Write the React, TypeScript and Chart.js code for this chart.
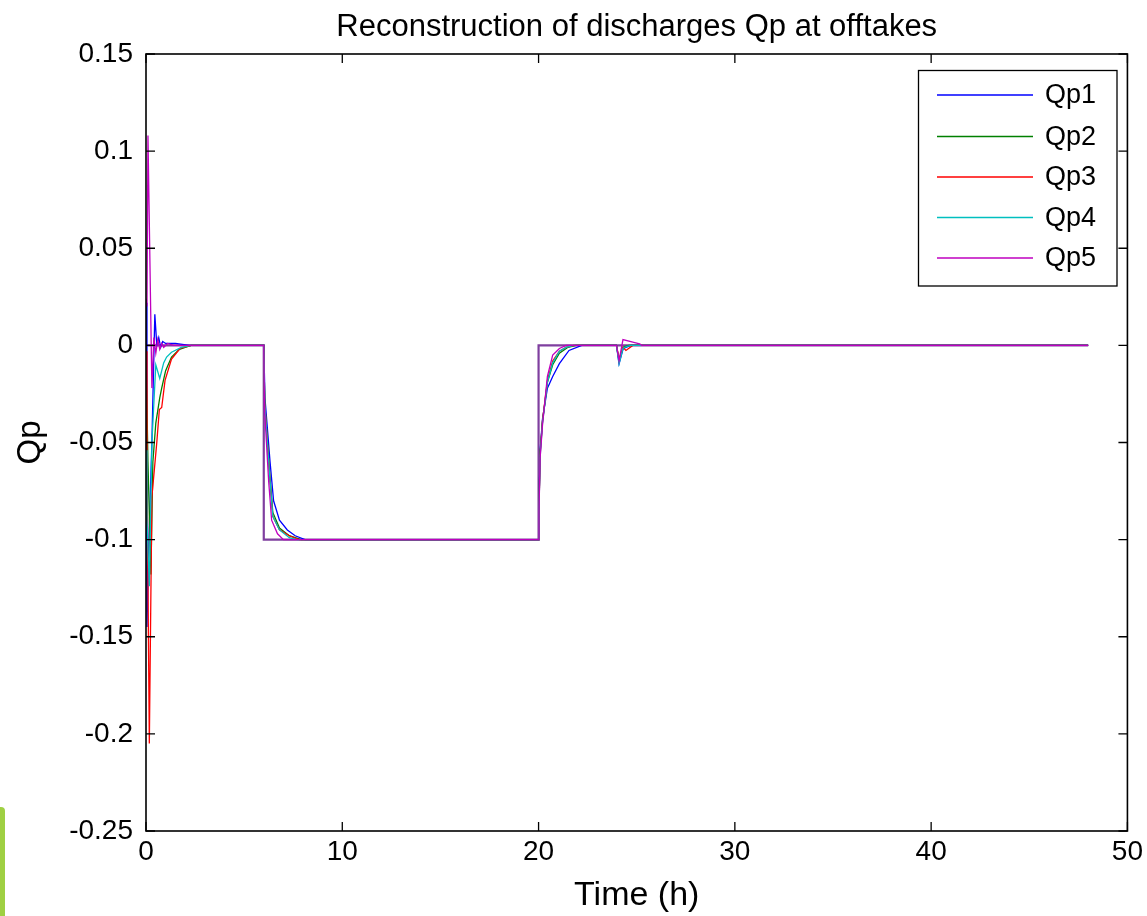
import React, { useEffect, useRef } from 'react';
import { Chart, registerables } from 'chart.js';
Chart.register(...registerables);

const FONT = '"Liberation Sans", Arial, sans-serif';

// ---- data ----
const qp1Time = [0, 0.05, 0.15, 0.3, 0.45, 0.55, 0.65, 0.75, 0.85, 1.0, 1.5, 2.2, 6.0, 6.06, 6.32, 6.5, 6.8, 7.2, 7.6, 8.1, 20.0, 20.02, 20.08, 20.2, 20.45, 20.72, 21.06, 21.55, 22.2, 23.97, 24.1, 24.3, 24.45, 24.7, 48];
const qp1Values = [0.022, -0.145, -0.1, -0.05, 0.016, 0.0, 0.004, -0.001, 0.002, 0.001, 0.001, 0, 0, -0.027, -0.06, -0.08, -0.09, -0.095, -0.098, -0.1, -0.1, -0.083, -0.054, -0.038, -0.022, -0.016, -0.0094, -0.0026, 0, 0, -0.0095, -0.002, -0.001, 0, 0];

const qp2Time = [0, 0.1, 0.25, 0.35, 0.5, 0.7, 0.8, 1.0, 1.3, 1.7, 2.3, 6.0, 6.05, 6.3, 6.46, 6.8, 7.3, 7.9, 20.0, 20.02, 20.08, 20.2, 20.45, 20.72, 21.06, 21.5, 21.9, 23.97, 24.1, 24.3, 24.6, 48];
const qp2Values = [-0.003, -0.06, -0.118, -0.06, -0.04, -0.027, -0.022, -0.013, -0.006, -0.002, 0, 0, -0.03, -0.066, -0.086, -0.094, -0.098, -0.1, -0.1, -0.084, -0.055, -0.039, -0.019, -0.01, -0.004, -0.001, 0, 0, -0.008, -0.001, 0, 0];

const qp3Time = [0, 0.05, 0.17, 0.3, 0.55, 0.68, 0.8, 0.97, 1.3, 1.73, 2.3, 6.0, 6.05, 6.3, 6.46, 6.8, 7.3, 7.8, 20.0, 20.02, 20.08, 20.2, 20.45, 20.72, 21.06, 21.4, 21.8, 23.97, 24.1, 24.3, 24.45, 24.8, 48];
const qp3Values = [-0.003, -0.06, -0.205, -0.078, -0.05, -0.033, -0.032, -0.018, -0.007, -0.0016, 0, 0, -0.03, -0.067, -0.088, -0.095, -0.098, -0.1, -0.1, -0.085, -0.056, -0.039, -0.018, -0.008, -0.003, -0.001, 0, 0, -0.007, -0.001, -0.0026, 0, 0];

const qp4Time = [0, 0.05, 0.17, 0.3, 0.5, 0.7, 0.9, 1.05, 1.3, 1.8, 2.3, 6.0, 6.05, 6.3, 6.46, 6.8, 7.3, 7.7, 20.0, 20.02, 20.08, 20.2, 20.45, 20.72, 21.06, 21.4, 21.8, 23.97, 24.1, 24.3, 24.5, 24.7, 48];
const qp4Values = [-0.054, -0.09, -0.124, -0.05, -0.01, -0.017, -0.009, -0.006, -0.0035, -0.001, 0, 0, -0.031, -0.067, -0.088, -0.095, -0.099, -0.1, -0.1, -0.085, -0.057, -0.04, -0.019, -0.009, -0.003, -0.001, 0, 0, -0.0095, -0.0015, -0.0005, 0, 0];

const qp5Time = [0, 0.05, 0.1, 0.3, 0.4, 0.5, 0.6, 0.7, 0.8, 0.9, 1.1, 1.4, 6.0, 6.04, 6.25, 6.4, 6.7, 7.0, 20.0, 20.02, 20.08, 20.2, 20.45, 20.72, 21.06, 21.4, 23.97, 24.1, 24.3, 24.8, 25.15, 25.25, 48];
const qp5Values = [0.024, 0.02, 0.108, -0.022, 0.004, -0.004, 0.003, -0.002, 0.001, -0.001, 0.001, 0, 0, -0.033, -0.07, -0.09, -0.097, -0.1, -0.1, -0.086, -0.058, -0.041, -0.016, -0.005, -0.0016, 0, 0, -0.008, 0.003, 0.0017, 0.0008, 0, 0];

const stepTime = [0, 6, 6, 20, 20, 48];
const stepValues = [0, 0, -0.1, -0.1, 0, 0];

const seriesNames = ['Qp1', 'Qp2', 'Qp3', 'Qp4', 'Qp5'];
const seriesColors = ['#0000ff', '#008000', '#ff0000', '#00bfbf', '#bf00bf'];
const seriesTimes = [qp1Time, qp2Time, qp3Time, qp4Time, qp5Time];
const seriesValues = [qp1Values, qp2Values, qp3Values, qp4Values, qp5Values];

const xTicks = [0, 10, 20, 30, 40, 50];
const xTickLabels = ['0', '10', '20', '30', '40', '50'];
const yTicks = [-0.25, -0.2, -0.15, -0.1, -0.05, 0, 0.05, 0.1, 0.15];
const yTickLabels = ['-0.25', '-0.2', '-0.15', '-0.1', '-0.05', '0', '0.05', '0.1', '0.15'];

const titleText = 'Reconstruction of discharges Qp at offtakes';
const xTitle = 'Time (h)';
const yTitle = 'Qp';

const toPoints = (t: number[], v: number[]) => t.map((x, i) => ({ x, y: v[i] }));

const framePlugin = {
  id: 'matlabFrame',
  afterDatasetsDraw(chart: any) {
    const { ctx, chartArea: a, scales } = chart;
    ctx.save();
    // frame
    ctx.strokeStyle = '#000';
    ctx.lineWidth = 1.6;
    ctx.strokeRect(a.left, a.top, a.right - a.left, a.bottom - a.top);
    // ticks (inward)
    const tl = 9;
    ctx.lineWidth = 1.3;
    ctx.beginPath();
    xTicks.forEach((v) => {
      const px = scales.x.getPixelForValue(v);
      ctx.moveTo(px, a.bottom); ctx.lineTo(px, a.bottom - tl);
      ctx.moveTo(px, a.top); ctx.lineTo(px, a.top + tl);
    });
    yTicks.forEach((v) => {
      const py = scales.y.getPixelForValue(v);
      ctx.moveTo(a.left, py); ctx.lineTo(a.left + tl, py);
      ctx.moveTo(a.right, py); ctx.lineTo(a.right - tl, py);
    });
    ctx.stroke();
    // legend
    const lx = 918.5, ly = 70.5, lw = 198.5, lh = 215.5;
    ctx.fillStyle = '#fff';
    ctx.fillRect(lx, ly, lw, lh);
    ctx.lineWidth = 1.3;
    ctx.strokeStyle = '#000';
    ctx.strokeRect(lx, ly, lw, lh);
    const rows = [95, 136.5, 177, 217.5, 258];
    ctx.font = `27px ${FONT}`;
    ctx.textBaseline = 'middle';
    ctx.textAlign = 'left';
    seriesNames.forEach((n, i) => {
      ctx.strokeStyle = seriesColors[i];
      ctx.lineWidth = 1.6;
      ctx.beginPath();
      ctx.moveTo(937, rows[i]);
      ctx.lineTo(1033, rows[i]);
      ctx.stroke();
      ctx.fillStyle = '#000';
      ctx.fillText(n, 1045, rows[i] + 1);
    });
    // title
    ctx.font = `31px ${FONT}`;
    ctx.textAlign = 'center';
    ctx.fillText(titleText, (a.left + a.right) / 2, 27);
    ctx.restore();
  },
};

export default function App() {
  const ref = useRef<HTMLCanvasElement>(null);
  useEffect(() => {
    document.body.style.margin = '0';
    const datasets: any[] = seriesNames.map((n, i) => ({
      label: n,
      data: toPoints(seriesTimes[i], seriesValues[i]),
      borderColor: seriesColors[i],
      borderWidth: 1.3,
      pointRadius: 0,
      fill: false,
      order: 5 - i,
    }));
    datasets.push({
      label: 'step',
      data: toPoints(stepTime, stepValues),
      borderColor: '#7f3f9f',
      borderWidth: 2.2,
      pointRadius: 0,
      fill: false,
      order: 10,
    });
    const chart = new Chart(ref.current as HTMLCanvasElement, {
      type: 'line',
      data: { datasets },
      options: {
        responsive: false,
        animation: false,
        devicePixelRatio: 1,
        layout: { padding: { top: 54, right: 18, bottom: 0, left: 0 } },
        plugins: { legend: { display: false }, tooltip: { enabled: false }, title: { display: false } },
        elements: { line: { tension: 0 } },
        scales: {
          x: {
            type: 'linear',
            min: 0,
            max: 50,
            afterBuildTicks: (s: any) => { s.ticks = xTicks.map((v) => ({ value: v })); },
            afterFit: (s: any) => { s.height = 85; },
            ticks: {
              autoSkip: false,
              maxRotation: 0,
              padding: 4,
              color: '#000',
              font: { family: FONT, size: 28 },
              callback: (_v: any, i: number) => xTickLabels[i],
            },
            grid: { display: false, drawTicks: false },
            border: { display: false },
            title: { display: true, text: xTitle, color: '#000', font: { family: FONT, size: 34 }, padding: { top: 2, bottom: 0 } },
          },
          y: {
            type: 'linear',
            min: -0.25,
            max: 0.15,
            afterBuildTicks: (s: any) => { s.ticks = yTicks.map((v) => ({ value: v })); },
            afterFit: (s: any) => { s.width = 146; },
            ticks: {
              autoSkip: false,
              padding: 13,
              color: '#000',
              font: { family: FONT, size: 28 },
              callback: (_v: any, i: number) => yTickLabels[i],
            },
            grid: { display: false, drawTicks: false },
            border: { display: false },
            title: { display: true, text: yTitle, color: '#000', font: { family: FONT, size: 33 }, padding: { top: 11, bottom: 2 } },
          },
        },
      },
      plugins: [framePlugin],
    } as any);
    return () => chart.destroy();
  }, []);
  return (
    <div style={{ position: 'absolute', left: 0, top: 0, width: 1147, height: 916, background: '#fff', overflow: 'hidden' }}>
      <canvas ref={ref} width={1147} height={916} style={{ display: 'block' }} />
      <div style={{ position: 'absolute', left: 0, top: 807, width: 5, height: 109, background: '#9fd043', borderTopRightRadius: 4 }} />
    </div>
  );
}
